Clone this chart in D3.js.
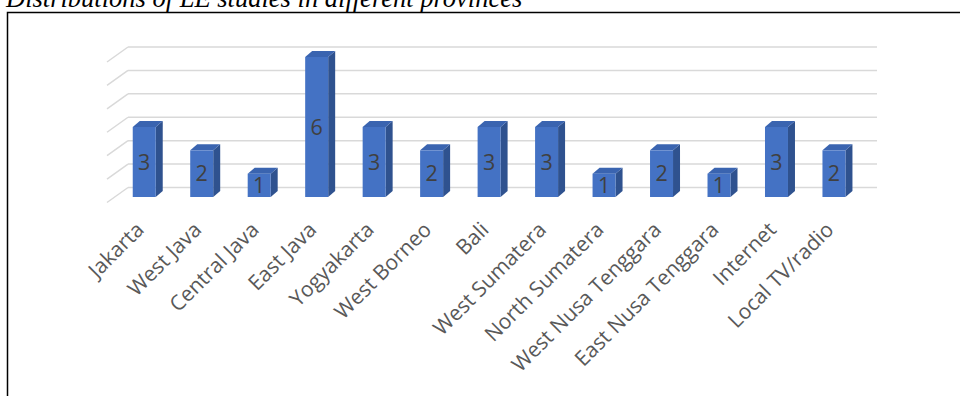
<!DOCTYPE html>
<html>
<head>
<meta charset="utf-8">
<script src="https://cdn.jsdelivr.net/npm/d3@7"></script>
<style>
  body { margin: 0; background: #fff; }
  svg { display: block; }
</style>
</head>
<body>
<div id="chart"></div>
<script>
var categories = ["Jakarta", "West Java", "Central Java", "East Java", "Yogyakarta", "West Borneo",
  "Bali", "West Sumatera", "North Sumatera", "West Nusa Tenggara", "East Nusa Tenggara",
  "Internet", "Local TV/radio"];
var studies = [3, 2, 1, 6, 3, 2, 3, 3, 1, 2, 1, 3, 2];
var gridTicks = [0, 1, 2, 3, 4, 5, 6];

(function () {
  var width = 960, height = 396;
  var depthX = 7, depthY = 6;      // bar depth
  var wallX = 21, wallY = 15;      // side wall depth

  var svg = d3.select("#chart").append("svg")
    .attr("width", width)
    .attr("height", height);

  // title, mostly cut off at the top
  svg.append("text")
    .attr("x", 6)
    .attr("y", 7)
    .attr("font-family", "Liberation Serif, Times New Roman, serif")
    .attr("font-style", "italic")
    .attr("font-size", 26.5)
    .attr("fill", "#000")
    .text("Distributions of LE studies in different provinces");

  // frame
  svg.append("path")
    .attr("d", "M7.5,396 V12.5 H960")
    .attr("fill", "none")
    .attr("stroke", "#000")
    .attr("stroke-width", 1.5);

  var x = d3.scaleBand()
    .domain(categories)
    .range([115.5, 862.7])
    .paddingInner(0.6)
    .paddingOuter(0.3);

  var yBack = d3.scaleLinear().domain([0, 6]).range([187.5, 47]);
  var yFront = d3.scaleLinear().domain([0, 6]).range([197, 57]);

  // back wall grid
  svg.append("g").selectAll("line")
    .data(gridTicks)
    .enter().append("line")
    .attr("x1", 128).attr("x2", 877)
    .attr("y1", function (d) { return yBack(d); })
    .attr("y2", function (d) { return yBack(d); })
    .attr("stroke", "#d9d9d9")
    .attr("stroke-width", 1.5);

  // side wall grid
  svg.append("g").selectAll("line")
    .data(gridTicks)
    .enter().append("line")
    .attr("x1", 128 - wallX).attr("x2", 128)
    .attr("y1", function (d) { return yBack(d) + wallY; })
    .attr("y2", function (d) { return yBack(d); })
    .attr("stroke", "#d9d9d9")
    .attr("stroke-width", 1.5);

  var data = categories.map(function (c, i) { return { name: c, value: studies[i] }; });

  var bars = svg.append("g").selectAll("g")
    .data(data)
    .enter().append("g");

  // side face
  bars.append("path")
    .attr("fill", "#2f528f")
    .attr("d", function (d) {
      var x1 = x(d.name) + x.bandwidth(), yt = yFront(d.value), yb = yFront(0);
      return "M" + x1 + "," + yt + " L" + (x1 + depthX) + "," + (yt - depthY) +
        " L" + (x1 + depthX) + "," + (yb - depthY) + " L" + x1 + "," + yb + "Z";
    });

  // top face
  bars.append("path")
    .attr("fill", "#3a64b0")
    .attr("d", function (d) {
      var x0 = x(d.name), x1 = x0 + x.bandwidth(), yt = yFront(d.value);
      return "M" + x0 + "," + yt + " L" + (x0 + depthX) + "," + (yt - depthY) +
        " L" + (x1 + depthX) + "," + (yt - depthY) + " L" + x1 + "," + yt + "Z";
    });

  // front face
  bars.append("rect")
    .attr("x", function (d) { return x(d.name); })
    .attr("y", function (d) { return yFront(d.value); })
    .attr("width", x.bandwidth())
    .attr("height", function (d) { return yFront(0) - yFront(d.value); })
    .attr("fill", "#4472c4");

  // value labels
  bars.append("text")
    .attr("x", function (d) { return x(d.name) + x.bandwidth() / 2; })
    .attr("y", function (d) { return (yFront(d.value) + yFront(0)) / 2; })
    .attr("dy", "0.36em")
    .attr("text-anchor", "middle")
    .attr("font-family", "Open Sans, sans-serif")
    .attr("font-size", 21.5)
    .attr("fill", "#404040")
    .text(function (d) { return d.value; });

  // category labels
  svg.append("g").selectAll("text")
    .data(categories)
    .enter().append("text")
    .attr("transform", function (d) {
      return "translate(" + (x(d) + x.bandwidth() / 2 + 1) + ",231) rotate(-45)";
    })
    .attr("text-anchor", "end")
    .attr("font-family", "Open Sans, sans-serif")
    .attr("font-size", 21)
    .attr("fill", "#595959")
    .text(function (d) { return d; });
})();
</script>
</body>
</html>
